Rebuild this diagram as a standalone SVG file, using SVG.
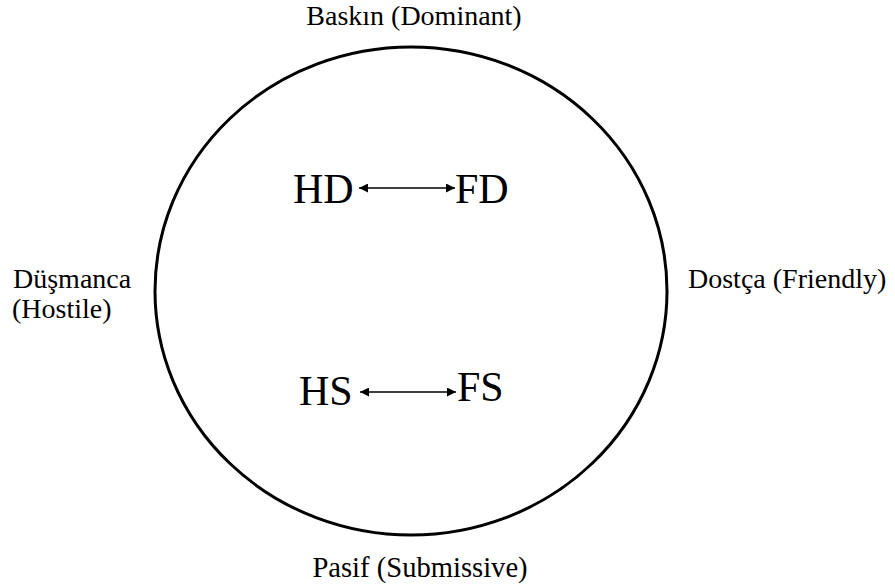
<svg xmlns="http://www.w3.org/2000/svg" width="895" height="588" viewBox="0 0 895 588">
<style>
.lbl{font-family:"Liberation Serif","Times New Roman",serif;font-size:28px;fill:#000}
.big{font-family:"Liberation Serif","Times New Roman",serif;font-size:42px;fill:#000}
.conn{stroke:#000;stroke-width:1.5;fill:none}
</style>
<defs>
<marker id="ah" viewBox="0 0 10 10" refX="10" refY="5" markerWidth="9" markerHeight="9" markerUnits="userSpaceOnUse" orient="auto-start-reverse">
<path d="M0,0 L10,5 L0,10 z" fill="#000"/>
</marker>
</defs>
<rect width="895" height="588" fill="#fff"/>
<g id="circle"><ellipse cx="411" cy="291" rx="256" ry="244" fill="none" stroke="#000" stroke-width="3"/></g>
<g id="axis-labels">
<text class="lbl" x="414" y="25" text-anchor="middle">Baskın (Dominant)</text>
<text class="lbl" x="420" y="577" text-anchor="middle" style="font-size:28.6px">Pasif (Submissive)</text>
<text class="lbl" x="13" y="288">Düşmanca</text>
<text class="lbl" x="12" y="318">(Hostile)</text>
<text class="lbl" x="688" y="288">Dostça (Friendly)</text>
</g>
<g id="HD"><text class="big" x="293" y="203">HD</text></g>
<g id="FD"><text class="big" x="455" y="203">FD</text></g>
<g id="HS"><text class="big" x="299" y="405">HS</text></g>
<g id="FS"><text class="big" x="457" y="401">FS</text></g>
<g id="connectors">
<line class="conn" x1="359" y1="188" x2="455" y2="188" marker-start="url(#ah)" marker-end="url(#ah)"/>
<line class="conn" x1="360" y1="392" x2="456" y2="392" marker-start="url(#ah)" marker-end="url(#ah)"/>
</g>
</svg>
